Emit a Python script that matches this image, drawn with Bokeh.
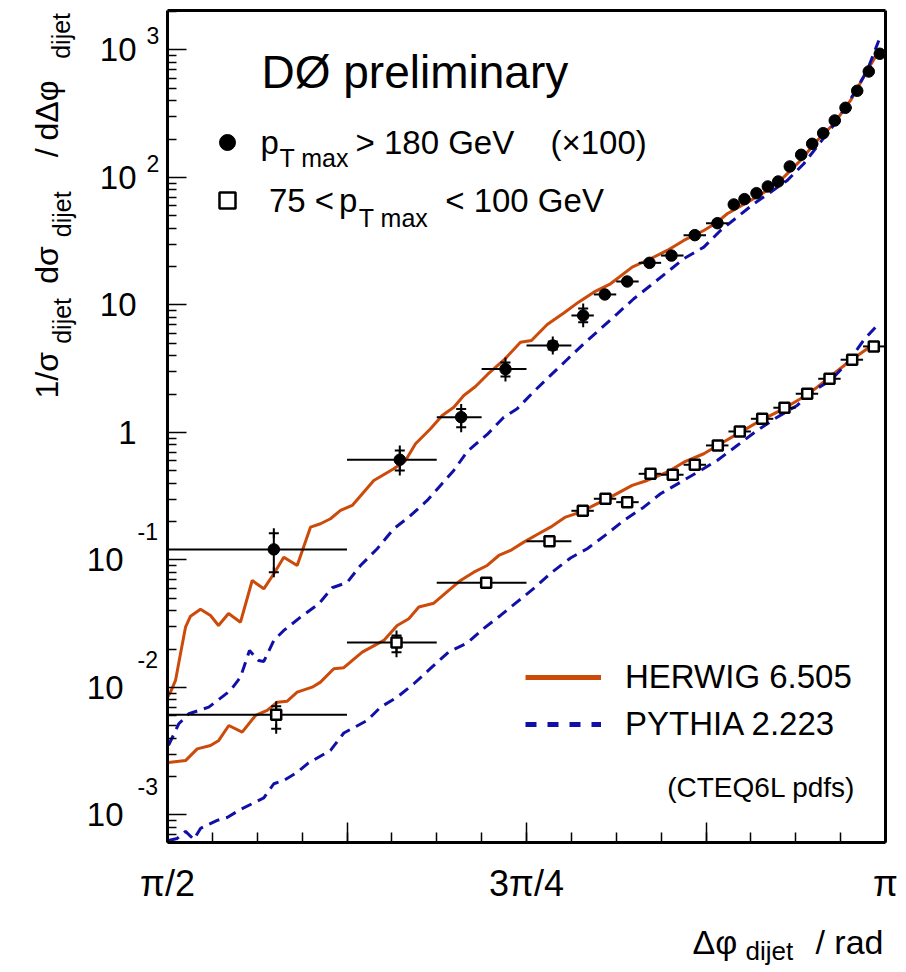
import numpy as np

from bokeh.embed import file_html
from bokeh.models import (FixedTicker,
                          Label,
                          Legend,
                          LegendItem,
                          LinearAxis,
                          LogAxis,
                          Range1d)
from bokeh.plotting import figure
from bokeh.resources import INLINE

FONT = "Liberation Sans"
HERWIG_COLOR = "#cc4a0a"
PYTHIA_COLOR = "#1010a8"

# Data: p_T max > 180 GeV (multiplied by 100)
HIGH_X = [1.8034, 2.0790, 2.2133, 2.3102, 2.4137, 2.4802, 2.5275, 2.5765,
          2.6253, 2.6734, 2.7244, 2.7740, 2.8097, 2.8331, 2.8594, 2.8841,
          2.9068, 2.9322, 2.9571, 2.9812, 3.0053, 3.0306, 3.0541, 3.0797,
          3.1050, 3.1291]
HIGH_Y = [0.121, 0.611, 1.318, 3.14, 4.81, 8.27, 12.09, 15.28, 21.4, 24.4,
          35.3, 43.8, 61.4, 67.6, 75.3, 85.0, 93.0, 122.0, 150.6, 183.7,
          222.5, 279.8, 352.0, 478.6, 678.0, 934.0]
HIGH_BIN_LO = [1.5708, 1.9635, 2.1598, 2.2580, 2.3562, 2.4544, 2.5035, 2.5525,
               2.6016, 2.6507, 2.6998, 2.7489, 2.7980, 2.8225, 2.8471, 2.8716,
               2.8962, 2.9207, 2.9452, 2.9698, 2.9943, 3.0189, 3.0434, 3.0680,
               3.0925, 3.1170]
HIGH_BIN_HI = [1.9635, 2.1598, 2.2580, 2.3562, 2.4544, 2.5035, 2.5525, 2.6016,
               2.6507, 2.6998, 2.7489, 2.7980, 2.8225, 2.8471, 2.8716, 2.8962,
               2.9207, 2.9452, 2.9698, 2.9943, 3.0189, 3.0434, 3.0680, 3.0925,
               3.1170, 3.1416]
HIGH_ERR_DOWN = [0.041, 0.108, 0.218, 0.39, 0.33, 0.94] + [0.0] * 20
HIGH_ERR_UP = [0.041, 0.111, 0.212, 0.40, 0.36, 1.12] + [0.0] * 20

# Data: 75 < p_T max < 100 GeV
LOW_X = [1.8086, 2.0718, 2.2680, 2.4065, 2.4794, 2.5290, 2.5765, 2.6275,
         2.6762, 2.7244, 2.7747, 2.8228, 2.8718, 2.9206, 2.9703, 3.0191,
         3.0687, 3.1160]
LOW_Y = [0.00611, 0.02254, 0.0662, 0.1405, 0.243, 0.302, 0.284, 0.474,
         0.466, 0.558, 0.791, 1.018, 1.28, 1.563, 2.012, 2.637, 3.72, 4.73]
LOW_BIN_LO = [1.5708, 1.9635, 2.1598, 2.3562, 2.4544, 2.5035, 2.5525, 2.6016,
              2.6507, 2.6998, 2.7489, 2.7980, 2.8471, 2.8962, 2.9452, 2.9943,
              3.0434, 3.0925]
LOW_BIN_HI = [1.9635, 2.1598, 2.3562, 2.4544, 2.5035, 2.5525, 2.6016, 2.6507,
              2.6998, 2.7489, 2.7980, 2.8471, 2.8962, 2.9452, 2.9943, 3.0434,
              3.0925, 3.1416]
LOW_ERR_DOWN = [0.00137, 0.00364] + [0.0] * 16
LOW_ERR_UP = [0.00102, 0.00306] + [0.0] * 16

# HERWIG 6.505, upper (x100) and lower sample
HERWIG_HIGH_X = [1.5708, 1.5774, 1.5883, 1.5992, 1.6102, 1.6211, 1.6430,
                 1.6649, 1.6824, 1.7043, 1.7305, 1.7561, 1.7815, 1.8034,
                 1.8252, 1.8545, 1.8836, 1.9055, 1.9274, 1.9493, 1.9749,
                 2.0221, 2.0659, 2.0915, 2.1134, 2.1462, 2.1718, 2.1971,
                 2.2190, 2.2446, 2.2709, 2.3080, 2.3430, 2.3671, 2.4015,
                 2.4378, 2.4700, 2.5034, 2.5400, 2.5874, 2.6275, 2.6640,
                 2.7003, 2.7441, 2.7734, 2.7953, 2.8462, 2.8828, 2.9191,
                 2.9556, 2.9922, 3.0285, 3.0651, 3.1016, 3.1307]
HERWIG_HIGH_Y = [0.0084, 0.0092, 0.01135, 0.01838, 0.0297, 0.0362, 0.0411,
                 0.0367, 0.0306, 0.0380, 0.0325, 0.0690, 0.0594, 0.0780,
                 0.1052, 0.0905, 0.1808, 0.1923, 0.2104, 0.2445, 0.2677,
                 0.4202, 0.5190, 0.603, 0.815, 1.069, 1.359, 1.579,
                 1.950, 2.295, 2.850, 3.737, 5.108, 5.268, 7.03,
                 8.65, 10.52, 12.60, 14.66, 19.79, 23.04, 26.76,
                 32.06, 38.39, 44.62, 51.92, 66.02, 79.07, 100.6,
                 135.9, 195.0, 263.8, 401.8, 690.6, 1027.0]
HERWIG_LOW_X = [1.5730, 1.6102, 1.6358, 1.6649, 1.6830, 1.7049, 1.7342,
                1.7633, 1.7889, 1.8108, 1.8327, 1.8545, 1.8874, 1.9055,
                1.9346, 1.9565, 1.9968, 2.0440, 2.0733, 2.0987, 2.1206,
                2.1534, 2.1899, 2.2118, 2.2409, 2.2702, 2.2956, 2.3212,
                2.3503, 2.3796, 2.4087, 2.4415, 2.4743, 2.5034, 2.5399,
                2.5874, 2.6202, 2.6640, 2.7003, 2.7441, 2.7806, 2.8244,
                2.8681, 2.9119, 2.9556, 2.9922, 3.0285, 3.0651, 3.1016,
                3.1263]
HERWIG_LOW_Y = [0.00258, 0.00267, 0.00330, 0.00351, 0.00384, 0.00503,
                0.00446, 0.00603, 0.00660, 0.00767, 0.00781, 0.00919,
                0.01005, 0.01101, 0.01402, 0.01428, 0.01892, 0.02338,
                0.0306, 0.0346, 0.0427, 0.0458, 0.0594, 0.0690, 0.0802,
                0.0905, 0.1084, 0.1187, 0.1380, 0.1585, 0.1808, 0.2168,
                0.2371, 0.2677, 0.3109, 0.3841, 0.4202, 0.4882, 0.5848,
                0.6808, 0.8154, 1.006, 1.242, 1.488, 1.838, 2.266, 2.886,
                3.671, 4.535, 5.08]

# PYTHIA 2.223, upper (x100) and lower sample
PYTHIA_HIGH_X = [1.5730, 1.5955, 1.6174, 1.6611, 1.7086, 1.7305, 1.7502,
                 1.7699, 1.7815, 1.8034, 1.8252, 1.8618, 1.9018, 1.9311,
                 1.9639, 1.9930, 2.0296, 2.0659, 2.0987, 2.1390, 2.1680,
                 2.1971, 2.2265, 2.2702, 2.3065, 2.3358, 2.3722, 2.4087,
                 2.4452, 2.4815, 2.5181, 2.5546, 2.5909, 2.6275, 2.6640,
                 2.7003, 2.7441, 2.7806, 2.8171, 2.8535, 2.8900, 2.9265,
                 2.9628, 2.9994, 3.0359, 3.0722, 3.1016, 3.1269]
PYTHIA_HIGH_Y = [0.00351, 0.00519, 0.00622, 0.00701, 0.00947, 0.01205,
                 0.01950, 0.01628, 0.01600, 0.02338, 0.0280, 0.0356, 0.0453,
                 0.0605, 0.0666, 0.0905, 0.1224, 0.1758, 0.2168, 0.2929,
                 0.3841, 0.5035, 0.7096, 0.9645, 1.318, 1.534, 2.097, 2.800,
                 3.737, 4.963, 6.506, 8.531, 11.19, 14.22, 18.08, 23.04,
                 28.40, 38.39, 48.84, 62.19, 76.7, 94.7, 128.1, 189.2,
                 279.9, 453.5, 690.6, 1187.0]
PYTHIA_LOW_X = [1.5730, 1.5920, 1.6102, 1.6283, 1.6430, 1.6795, 1.7014,
                1.7305, 1.7815, 1.8034, 1.8252, 1.8545, 1.8793, 1.9274,
                1.9565, 2.0077, 2.0368, 2.0733, 2.1096, 2.1462, 2.1855,
                2.2265, 2.2628, 2.2993, 2.3358, 2.3722, 2.4087, 2.4525,
                2.4890, 2.5327, 2.5691, 2.6128, 2.6493, 2.6931, 2.7368,
                2.7734, 2.8171, 2.8609, 2.9046, 2.9484, 2.9847, 3.0212,
                3.0578, 3.0941, 3.1269]
PYTHIA_LOW_Y = [0.00063, 0.000654, 0.000743, 0.000643, 0.000784, 0.000906,
                0.000956, 0.001104, 0.001359, 0.001757, 0.001866, 0.002155,
                0.002558, 0.003206, 0.004395, 0.005508, 0.0070, 0.008395,
                0.01069, 0.01409, 0.01892, 0.02234, 0.02904, 0.03671,
                0.04686, 0.05977, 0.07839, 0.1037, 0.1224, 0.1605, 0.2040,
                0.2596, 0.3305, 0.4075, 0.5035, 0.6031, 0.7907, 1.037,
                1.318, 1.628, 2.135, 2.557, 3.496, 5.316, 7.120]

X_MIN, X_MAX = np.pi / 2, np.pi
Y_MIN, Y_MAX = 6.08e-4, 2040.
X_TICK_VALUES = [np.pi / 2, 3 * np.pi / 4, np.pi]
X_TICK_LABELS = ["π/2", "3π/4", "π"]
Y_TICK_VALUES = [1e3, 1e2, 1e1, 1e0, 1e-1, 1e-2, 1e-3]
Y_TICK_BASES = ["10", "10", "10", "1", "10", "10", "10"]
Y_TICK_EXPONENTS = ["3", "2", "", "", "-1", "-2", "-3"]

WIDTH, HEIGHT = 906, 972
# pixel box of the framed area inside the canvas
BOX_LEFT, BOX_RIGHT, BOX_TOP, BOX_BOTTOM = 167, 885, 10, 842
# distance from the alphabetic baseline to the middle of the em box
MIDDLE = 0.35


def text(p, string, x, y, size, angle=0., align="left"):
    # x, y: start of the text baseline, pixels from the canvas top-left
    if angle:
        sx, sy = x - MIDDLE * size, HEIGHT - y
    else:
        sx, sy = x, HEIGHT - y + MIDDLE * size
    p.add_layout(Label(x=sx, y=sy,
                       x_units="screen", y_units="screen",
                       text=string,
                       text_font=FONT,
                       text_font_size=f"{size}px",
                       text_color="black",
                       text_align=align,
                       text_baseline="middle",
                       angle=angle))


def error_bars(p, xs, ys, bin_lo, bin_hi, err_down, err_up):
    p.segment(x0=bin_lo, y0=ys, x1=bin_hi, y1=ys,
              line_color="black", line_width=2)
    keep = [i for i in range(len(xs)) if err_down[i] > 0]
    x_err = [xs[i] for i in keep]
    y_low = [ys[i] - err_down[i] for i in keep]
    y_high = [ys[i] + err_up[i] for i in keep]
    p.segment(x0=x_err, y0=y_low, x1=x_err, y1=y_high,
              line_color="black", line_width=2)
    for ends in (y_low, y_high):
        p.scatter(x_err, ends, marker="cross", size=10,
                  line_color="black", line_width=2)


def frame_axis(axis):
    axis.axis_line_width = 3
    axis.axis_line_color = "black"
    axis.major_tick_out = 0
    axis.minor_tick_out = 0
    axis.major_tick_line_width = 1.5
    axis.minor_tick_line_width = 1.5
    axis.major_tick_line_color = "black"
    axis.minor_tick_line_color = "black"


def plot():
    # the frame fills the whole canvas, the axes are pinned to the box
    px_per_rad = (BOX_RIGHT - BOX_LEFT) / (X_MAX - X_MIN)
    px_per_decade = (BOX_BOTTOM - BOX_TOP) / np.log10(Y_MAX / Y_MIN)
    x_range = Range1d(X_MIN - BOX_LEFT / px_per_rad,
                      X_MAX + (WIDTH - BOX_RIGHT) / px_per_rad)
    y_range = Range1d(Y_MIN / 10 ** ((HEIGHT - BOX_BOTTOM) / px_per_decade),
                      Y_MAX * 10 ** (BOX_TOP / px_per_decade))

    p = figure(width=WIDTH, height=HEIGHT,
               y_axis_type="log",
               x_range=x_range,
               y_range=y_range,
               title=None,
               output_backend="svg",
               toolbar_location=None,
               min_border=0)
    p.grid.grid_line_color = None
    p.outline_line_color = None

    x_major = [np.pi / 2, 5 * np.pi / 8, 3 * np.pi / 4, 7 * np.pi / 8, np.pi]
    x_minor = [np.pi / 2 + k * np.pi / 32 for k in range(17)]
    xaxis = p.xaxis[0]
    xaxis.fixed_location = Y_MIN
    xaxis.bounds = (X_MIN, X_MAX)
    xaxis.ticker = FixedTicker(ticks=x_major, minor_ticks=x_minor)
    x_labels = {tick: "" for tick in x_major}
    x_labels.update(dict(zip(X_TICK_VALUES, X_TICK_LABELS)))
    xaxis.major_label_overrides = x_labels
    xaxis.major_label_text_font = FONT
    xaxis.major_label_text_font_size = "36px"
    xaxis.major_label_text_color = "black"
    xaxis.major_label_standoff = 20
    frame_axis(xaxis)
    xaxis.major_tick_in = 20
    xaxis.minor_tick_in = 10

    y_minor = [m * 10. ** e for e in range(-4, 4) for m in range(2, 10)]
    y_minor = [tick for tick in y_minor if Y_MIN <= tick <= Y_MAX]
    yaxis = p.yaxis[0]
    yaxis.fixed_location = X_MIN
    yaxis.bounds = (Y_MIN, Y_MAX)
    yaxis.ticker = FixedTicker(ticks=Y_TICK_VALUES, minor_ticks=y_minor)
    yaxis.major_label_overrides = {tick: "" for tick in Y_TICK_VALUES}
    frame_axis(yaxis)
    yaxis.major_tick_in = 19
    yaxis.minor_tick_in = 9

    # plain lines closing the box on the right and on top
    right_axis = LogAxis(fixed_location=X_MAX, bounds=(Y_MIN, Y_MAX),
                         ticker=FixedTicker(ticks=[]))
    top_axis = LinearAxis(fixed_location=Y_MAX, bounds=(X_MIN, X_MAX),
                          ticker=FixedTicker(ticks=[]))
    for axis in (right_axis, top_axis):
        frame_axis(axis)
        axis.major_tick_line_color = None
        axis.minor_tick_line_color = None
    p.add_layout(right_axis, "right")
    p.add_layout(top_axis, "above")

    # model curves
    p.line(HERWIG_HIGH_X, HERWIG_HIGH_Y, line_color=HERWIG_COLOR, line_width=3)
    p.line(HERWIG_LOW_X, HERWIG_LOW_Y, line_color=HERWIG_COLOR, line_width=3)
    p.line(PYTHIA_HIGH_X, PYTHIA_HIGH_Y, line_color=PYTHIA_COLOR,
           line_width=3, line_dash="11 7")
    p.line(PYTHIA_LOW_X, PYTHIA_LOW_Y, line_color=PYTHIA_COLOR,
           line_width=3, line_dash="11 7")

    # data points
    error_bars(p, HIGH_X, HIGH_Y, HIGH_BIN_LO, HIGH_BIN_HI,
               HIGH_ERR_DOWN, HIGH_ERR_UP)
    error_bars(p, LOW_X, LOW_Y, LOW_BIN_LO, LOW_BIN_HI,
               LOW_ERR_DOWN, LOW_ERR_UP)
    high_points = p.scatter(HIGH_X, HIGH_Y, marker="circle", size=11.5,
                            fill_color="black", line_color="black",
                            line_width=1)
    low_points = p.scatter(LOW_X, LOW_Y, marker="square", size=10,
                           fill_color="white", line_color="black",
                           line_width=2.5)

    marker_legend = Legend(items=[LegendItem(label=" ", renderers=[high_points]),
                                  LegendItem(label=" ", renderers=[low_points])],
                           location=(206.7, 752.3),
                           glyph_width=40, glyph_height=40,
                           label_height=10, label_text_font_size="8px",
                           spacing=18, padding=0, margin=0,
                           border_line_color=None,
                           background_fill_alpha=0)
    p.add_layout(marker_legend)

    herwig_key = p.line([np.nan], [np.nan], line_color=HERWIG_COLOR,
                        line_width=5)
    pythia_key = p.line([np.nan], [np.nan], line_color=PYTHIA_COLOR,
                        line_width=5, line_dash="11 11")
    model_legend = Legend(items=[LegendItem(label="HERWIG 6.505",
                                            renderers=[herwig_key]),
                                 LegendItem(label="PYTHIA 2.223",
                                            renderers=[pythia_key])],
                          location=(525, 228.3),
                          glyph_width=76, glyph_height=40,
                          label_height=40, label_standoff=24,
                          label_text_font=FONT,
                          label_text_font_size="33px",
                          label_text_color="black",
                          spacing=7, padding=0, margin=0,
                          border_line_color=None,
                          background_fill_alpha=0)
    p.add_layout(model_legend)

    text(p, "DØ preliminary", 261, 88, 46)
    text(p, "p", 260, 154, 33)
    text(p, "T max", 279, 166, 25)
    text(p, "> 180 GeV", 355, 154, 33)
    text(p, "(×100)", 550, 154, 33)
    text(p, "75 <", 268.5, 212, 33)
    text(p, "p", 338.5, 212, 33)
    text(p, "T max", 358.3, 226, 25)
    text(p, "< 100 GeV", 444.7, 212, 33)
    text(p, "(CTEQ6L pdfs)", 666.7, 797, 28)

    # y axis title, written bottom to top
    up = np.pi / 2
    text(p, "1/σ", 58, 398, 32, angle=up)
    text(p, "dijet", 70, 343.3, 25, angle=up)
    text(p, "dσ", 58, 283.3, 32, angle=up)
    text(p, "dijet", 70, 236.7, 25, angle=up)
    text(p, "/", 58, 156.7, 32, angle=up)
    text(p, "dΔφ", 58, 140, 32, angle=up)
    text(p, "dijet", 69, 58.3, 25, angle=up)

    # x axis title
    text(p, "Δφ", 692, 953, 34)
    text(p, "dijet", 745, 960, 26)
    text(p, "/ rad", 883, 953, 34, align="right")

    # y tick labels in the 10^n style
    for value, base, exponent in zip(Y_TICK_VALUES, Y_TICK_BASES,
                                     Y_TICK_EXPONENTS):
        negative = exponent.startswith("-")
        p.add_layout(Label(x=123 if negative else 136, y=value,
                           x_units="screen", y_units="data",
                           text=base, text_font=FONT,
                           text_font_size="33px", text_color="black",
                           text_align="right", text_baseline="middle"))
        if exponent:
            p.add_layout(Label(x=137 if negative else 146, y=value,
                               x_units="screen", y_units="data",
                               y_offset=28 if negative else 14,
                               text=exponent, text_font=FONT,
                               text_font_size="23px", text_color="black",
                               text_align="left",
                               text_baseline="middle"))

    with open("out.html", "w") as file:
        file.write(file_html(p, INLINE))


plot()
